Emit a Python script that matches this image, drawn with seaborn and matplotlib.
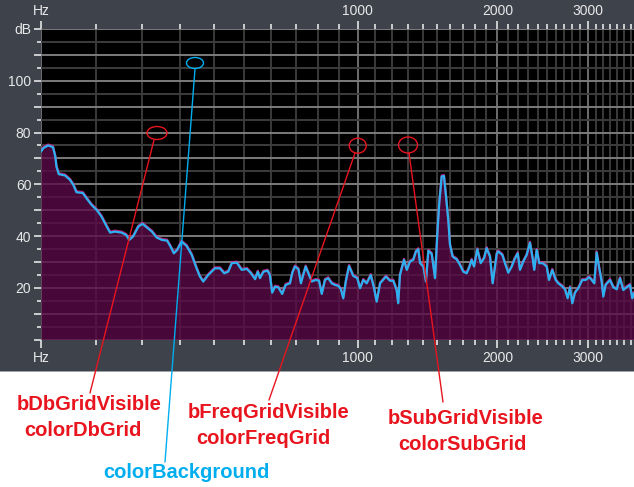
import numpy as np
import pandas as pd
import matplotlib
matplotlib.use("Agg")
import matplotlib.pyplot as plt
import seaborn as sns
from matplotlib.patches import Ellipse, Rectangle

# spectrum (Hz, dB)
freq_hz = [0, 4, 12, 20, 24, 26, 30, 41, 50, 56, 62, 74, 81, 91, 101, 111, 122, 129, 139, 154,
           164, 171, 180, 192, 202, 212, 225, 237, 250, 264, 273, 282, 291, 303, 317, 332, 346, 356,
           366, 381, 402, 418, 432, 445, 457, 474, 491, 509, 524, 539, 549, 557, 570, 586, 595, 604,
           615, 628, 644, 658, 676, 686, 697, 712, 723, 733, 744, 759, 771, 790, 805, 818, 833, 849,
           866, 882, 899, 912, 924, 937, 954, 976, 998, 1013, 1031, 1050, 1073, 1092, 1107, 1127,
           1162, 1187, 1207, 1228, 1238, 1249, 1275, 1293, 1314, 1336, 1354, 1370, 1382, 1405, 1423,
           1440, 1464, 1488, 1505, 1519, 1537, 1554, 1570, 1587, 1600, 1621, 1652, 1679, 1705, 1733,
           1754, 1774, 1794, 1822, 1851, 1880, 1903, 1933, 1957, 1994, 2008, 2046, 2071, 2103, 2136,
           2161, 2195, 2218, 2251, 2286, 2320, 2348, 2365, 2391, 2419, 2456, 2500, 2526, 2563, 2602,
           2632, 2672, 2711, 2743, 2771, 2799, 2832, 2873, 2924, 2967, 3010, 3046, 3080, 3112, 3143,
           3180, 3202, 3235, 3296, 3343, 3392, 3440, 3489, 3539, 3589, 3625, 3651]
level_db = [72.6, 74.0, 75.0, 74.3, 70.7, 66.8, 63.9, 63.4, 61.7, 59.8, 56.9, 56.6, 54.6, 52.0, 50.1,
            47.5, 43.6, 41.3, 41.7, 41.3, 40.4, 38.5, 39.8, 43.6, 44.7, 43.4, 41.7, 39.4, 38.5, 38.2,
            35.9, 33.3, 34.6, 37.8, 36.2, 32.7, 27.5, 24.3, 22.4, 24.9, 27.5, 27.5, 25.6, 26.2, 29.5,
            29.7, 26.9, 27.3, 25.6, 23.3, 26.2, 23.7, 26.2, 26.6, 24.9, 18.1, 20.4, 20.2, 17.6, 21.1,
            21.7, 25.8, 28.2, 27.2, 21.7, 24.9, 28.2, 24.9, 22.4, 23.0, 22.7, 17.6, 23.0, 23.7, 21.7,
            21.1, 20.7, 19.4, 15.9, 22.4, 28.4, 24.6, 23.7, 19.8, 23.0, 21.7, 24.9, 19.8, 14.6, 21.7,
            24.3, 22.7, 22.7, 19.1, 14.0, 24.9, 30.8, 26.9, 30.1, 30.8, 34.0, 34.9, 29.5, 28.2, 22.4,
            34.3, 33.1, 23.7, 41.1, 52.7, 63.0, 63.2, 55.2, 46.2, 36.6, 32.0, 31.0, 28.8, 26.2, 25.6,
            27.9, 30.8, 28.2, 34.9, 29.5, 31.4, 35.3, 32.0, 21.7, 33.1, 34.0, 32.7, 29.5, 25.8, 28.2,
            30.8, 33.3, 26.9, 30.1, 32.7, 37.4, 31.4, 26.9, 34.6, 29.5, 29.5, 28.2, 23.0, 26.9, 23.0,
            21.7, 20.7, 19.4, 15.9, 20.2, 14.0, 18.1, 19.8, 23.0, 23.0, 24.1, 23.0, 21.7, 33.6, 28.2,
            22.4, 16.6, 21.1, 23.0, 20.2, 19.4, 23.7, 19.1, 20.2, 21.1, 15.9, 17.9]

freq_labels = ['Hz', '1000', '2000', '3000']
freq_major = [0, 1000, 2000, 3000]
db_major = [0, 10, 20, 30, 40, 50, 60, 70, 80, 90, 100, 110, 120]
db_labels = ['', '', '20', '', '40', '', '60', '', '80', '', '100', '', 'dB']

# callouts: (text lines, colour, text centre, ellipse centre/size, leader line)
callouts = [
    (['bDbGridVisible', 'colorDbGrid'], '#e8141e', [(89, 404), (83, 431)], (157, 133, 20, 13), [(154, 140), (90, 393)]),
    (['bFreqGridVisible', 'colorFreqGrid'], '#e8141e', [(269, 413), (263, 439)], (357.7, 145.7, 17, 15), [(355, 153), (269, 400)]),
    (['bSubGridVisible', 'colorSubGrid'], '#e8141e', [(466, 418), (462, 444)], (408, 145, 19, 16), [(409, 153), (443, 402)]),
    (['colorBackground'], '#00aeef', [(186, 473)], (195, 63, 17, 11), [(195, 69), (165, 462)]),
]

df = pd.DataFrame({'freq': freq_hz, 'db': level_db})

sns.set_style("dark")
plt.rcParams['font.family'] = ['Liberation Sans', 'DejaVu Sans']

W, H = 634, 487
fig = plt.figure(figsize=(W / 100, H / 100), dpi=100)
fig.patch.set_facecolor('white')
fig.add_artist(Rectangle((0, 1 - 371 / H), 1, 371 / H, transform=fig.transFigure,
                         facecolor='#3d424b', edgecolor='none', zorder=-5))
fig.add_artist(Rectangle((0, 1 - 372 / H), 1, 1.2 / H, transform=fig.transFigure,
                         facecolor='#9ea3ab', edgecolor='none', zorder=-4))

ax = fig.add_axes([41 / W, 1 - 339.5 / H, 593 / W, 310.5 / H])
ax.set_facecolor('black')


def fwd(f):
    return np.log10(1 + np.asarray(f, dtype=float) / 430.0)


def inv(v):
    return 430.0 * (10 ** np.asarray(v, dtype=float) - 1)


ax.set_xscale('function', functions=(fwd, inv))

ax.fill_between(df['freq'], 0, df['db'], color='#5a0b48', alpha=0.8, lw=0, zorder=2)
# magenta shadow just above, cyan trace on top
sns.lineplot(x=df['freq'], y=df['db'] + 0.4, ax=ax, color='#e0208f', lw=1.6, alpha=0.8, zorder=3)
sns.lineplot(data=df, x='freq', y='db', ax=ax, color='#2db0ee', lw=1.6, zorder=4)

ax.set_xlim(0, 3651)
ax.set_ylim(0, 120)
ax.set_xlabel('')
ax.set_ylabel('')

ax.set_xticks(freq_major)
ax.set_xticklabels(freq_labels)
ax.set_xticks(list(range(100, 3700, 100)), minor=True)
ax.set_yticks(db_major)
ax.set_yticklabels(db_labels)
ax.set_yticks(list(range(5, 120, 10)), minor=True)

ax.tick_params(axis='x', which='both', top=True, labeltop=True, bottom=True, labelbottom=True,
               direction='out', color='#d8d8d8', width=1.3, labelcolor='#e8e8e8', labelsize=10)
ax.tick_params(axis='x', which='major', length=6, pad=2)
ax.tick_params(axis='x', which='minor', length=3.5)
ax.tick_params(axis='y', which='both', left=True, direction='out', color='#d8d8d8', width=1.3,
               labelcolor='#e8e8e8', labelsize=10)
ax.tick_params(axis='y', which='major', length=5, pad=2)
ax.tick_params(axis='y', which='minor', length=3)

ax.grid(True, which='major', axis='y', color='#7c7c7c', lw=1.4)
ax.grid(True, which='minor', axis='y', color='#3c3c3c', lw=1.4)
ax.grid(True, which='major', axis='x', color='#6c6c6c', lw=1.4)
ax.grid(True, which='minor', axis='x', color='#3a3a3a', lw=1.4)
ax.set_axisbelow(True)
for s in ax.spines.values():
    s.set_visible(False)

# overlay in pixel coordinates for the callouts
ov = fig.add_axes([0, 0, 1, 1])
ov.set_xlim(0, W)
ov.set_ylim(H, 0)
ov.axis('off')
ov.patch.set_alpha(0)
for lines, col, pos, (ex, ey, ew, eh), seg in callouts:
    ov.add_patch(Ellipse((ex, ey), ew, eh, fill=False, edgecolor=col, lw=1))
    ov.plot([seg[0][0], seg[1][0]], [seg[0][1], seg[1][1]], color=col, lw=1)
    for txt, (tx, ty) in zip(lines, pos):
        ov.text(tx, ty, txt, color=col, fontsize=14.5, fontweight='bold', ha='center', va='center')

fig.savefig('out.png', dpi=100)
